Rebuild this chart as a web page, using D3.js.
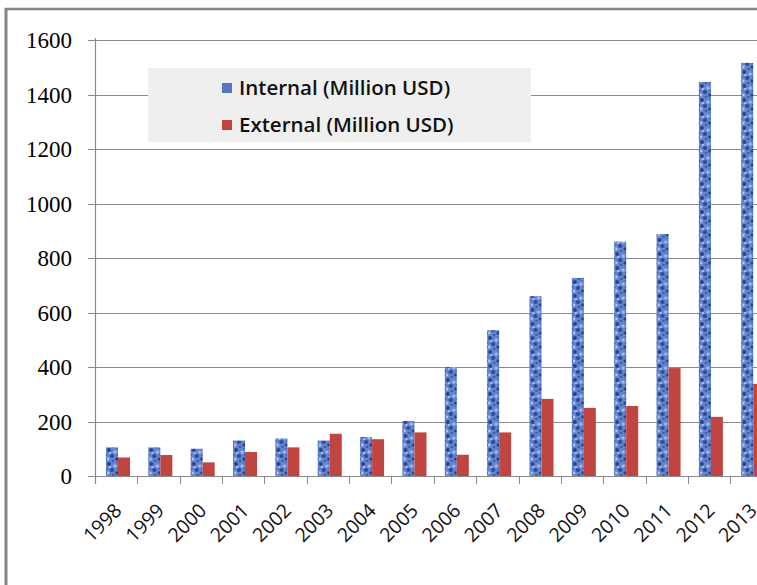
<!DOCTYPE html>
<html>
<head>
<meta charset="utf-8">
<script src="https://cdn.jsdelivr.net/npm/d3@7"></script>
<style>
  body { margin: 0; background: #fff; }
</style>
</head>
<body>
<div id="chart"></div>
<script>
// Chart data
const years = ["1998","1999","2000","2001","2002","2003","2004","2005","2006","2007","2008","2009","2010","2011","2012","2013"];
const internal = [105, 105, 100, 130, 138, 130, 143, 202, 400, 535, 660, 727, 860, 888, 1446, 1516];
const external = [68, 77, 50, 88, 105, 155, 135, 160, 78, 160, 283, 250, 257, 396, 217, 338];
const seriesNames = ["Internal (Million USD)", "External (Million USD)"];
const yTicks = [0, 200, 400, 600, 800, 1000, 1200, 1400, 1600];

const W = 757, H = 585;
const svg = d3.select("#chart")
  .append("svg")
    .attr("width", W)
    .attr("height", H);

// Texture for the internal series
const defs = svg.append("defs");
const pat = defs.append("pattern")
    .attr("id", "mottle")
    .attr("patternUnits", "userSpaceOnUse")
    .attr("width", 12).attr("height", 14);
pat.append("rect").attr("width", 12).attr("height", 14).attr("fill", "#6585d0");
[[2,2,1.9,"#23418a"],[8,4,1.5,"#a9c0f0"],[5,8,2.1,"#2b4a96"],[10,11,1.7,"#23418a"],
 [1,11,1.4,"#b4c8f2"],[6,13,1.3,"#3c5ba8"],[10,0,1.3,"#4868b4"],[3,5,1,"#c2d2f5"],[11,7,1,"#2b4a96"]]
  .forEach(([cx, cy, r, c]) => pat.append("circle").attr("cx", cx).attr("cy", cy).attr("r", r).attr("fill", c));

const clip = defs.append("clipPath").attr("id", "frame");
clip.append("rect").attr("x", 7).attr("y", 10).attr("width", W - 7).attr("height", H - 10);

// Outer frame
svg.append("rect").attr("x", 7).attr("y", 10).attr("width", W).attr("height", H).attr("fill", "#fff");
svg.append("line").attr("x1", 6).attr("x2", 6).attr("y1", 8).attr("y2", H)
  .attr("stroke", "#858585").attr("stroke-width", 3);
svg.append("line").attr("x1", 5).attr("x2", W).attr("y1", 9).attr("y2", 9)
  .attr("stroke", "#858585").attr("stroke-width", 2.5);

const g = svg.append("g").attr("clip-path", "url(#frame)");

// Scales
const x0 = d3.scaleBand().domain(years).range([95, 95 + 16 * 42.35]).padding(0);
const x1 = d3.scaleBand().domain(seriesNames).range([11, 35]).padding(0);
const y = d3.scaleLinear().domain([0, 1600]).range([476, 40]);

// Gridlines
g.append("g").selectAll("line")
  .data(yTicks.filter(d => d > 0))
  .join("line")
    .attr("x1", 88).attr("x2", W)
    .attr("y1", d => Math.round(y(d)) + 0.5).attr("y2", d => Math.round(y(d)) + 0.5)
    .attr("stroke", "#8a8a8a").attr("stroke-width", 1.2);

// Legend box
const legend = g.append("g");
legend.append("rect")
  .attr("x", 148).attr("y", 68).attr("width", 383).attr("height", 74)
  .attr("fill", "#efefef");
const colors = ["url(#mottle)", "#c0443f"];
seriesNames.forEach((s, i) => {
  legend.append("rect")
    .attr("x", 222).attr("y", 83 + i * 37).attr("width", 10).attr("height", 10)
    .attr("fill", i === 0 ? "#5577c0" : "#c0443f");
  legend.append("text")
    .attr("x", 239).attr("y", 95 + i * 37)
    .attr("font-family", "'Open Sans', sans-serif")
    .attr("font-size", 20.5).attr("font-weight", 600)
    .attr("fill", "#111")
    .text(s);
});

// Bars
const rows = years.map((yr, i) => ({year: yr, vals: [internal[i], external[i]]}));
g.append("g").selectAll("g")
  .data(rows)
  .join("g")
    .attr("transform", d => `translate(${x0(d.year)},0)`)
  .selectAll("rect")
  .data(d => d.vals.map((v, k) => ({key: seriesNames[k], v, k})))
  .join("rect")
    .attr("x", d => x1(d.key))
    .attr("y", d => y(d.v))
    .attr("width", x1.bandwidth())
    .attr("height", d => y(0) - y(d.v))
    .attr("fill", d => colors[d.k]);

// Axes
g.append("line").attr("x1", 95.5).attr("x2", 95.5).attr("y1", 38).attr("y2", 484)
  .attr("stroke", "#8a8a8a").attr("stroke-width", 1.2);
g.append("line").attr("x1", 88).attr("x2", W).attr("y1", 476.5).attr("y2", 476.5)
  .attr("stroke", "#8a8a8a").attr("stroke-width", 1.2);
g.append("g").selectAll("line")
  .data(years.slice(1).concat(["end"]))
  .join("line")
    .attr("x1", (d, i) => Math.round(95 + (i + 1) * x0.bandwidth()) + 0.5)
    .attr("x2", (d, i) => Math.round(95 + (i + 1) * x0.bandwidth()) + 0.5)
    .attr("y1", 476).attr("y2", 484)
    .attr("stroke", "#8a8a8a");

// Y tick labels
g.append("g").selectAll("text")
  .data(yTicks)
  .join("text")
    .attr("x", 72).attr("y", d => y(d))
    .attr("dy", "0.35em")
    .attr("text-anchor", "end")
    .attr("font-family", "'Liberation Serif', serif")
    .attr("font-size", 23)
    .attr("fill", "#000")
    .text(d => d);

// X tick labels
g.append("g").selectAll("text")
  .data(years)
  .join("text")
    .attr("transform", d => `translate(${x0(d) + x0.bandwidth() / 2 + 2},${507}) rotate(-45)`)
    .attr("text-anchor", "end")
    .attr("dy", "0.35em")
    .attr("font-family", "'Open Sans', sans-serif")
    .attr("font-size", 19.5)
    .attr("fill", "#111")
    .text(d => d);
</script>
</body>
</html>
